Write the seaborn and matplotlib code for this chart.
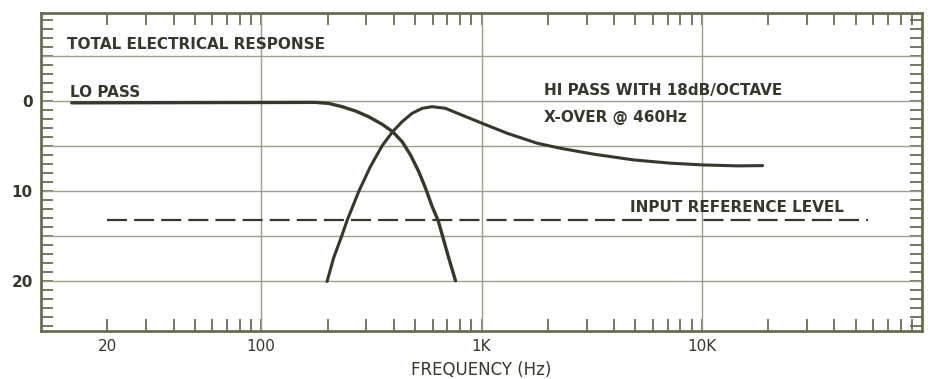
import numpy as np
import pandas as pd
import matplotlib
matplotlib.use("Agg")
import matplotlib.pyplot as plt
import seaborn as sns
from matplotlib.ticker import FixedLocator, NullFormatter

# ---- data ----
lo_freq = [13.8, 176, 202, 233, 268, 307, 354, 395, 436, 476, 519, 557, 597,
           636, 663, 710, 762]
lo_db = [0.2, 0.15, 0.26, 0.63, 1.11, 1.74, 2.59, 3.41, 4.52, 6.0, 7.86, 9.70,
         11.74, 13.33, 14.89, 17.48, 20.0]

hi_freq = [199, 213, 233, 245, 277, 313, 354, 395, 436, 484, 538, 597, 686, 748,
           1007, 1309, 1791, 2286, 3239, 4924, 7229, 10070, 14530, 18880]
hi_db = [20.08, 17.48, 14.89, 13.33, 10.08, 7.30, 4.97, 3.41, 2.30, 1.37, 0.81,
         0.63, 0.81, 1.19, 2.48, 3.59, 4.70, 5.26, 5.92, 6.56, 6.92, 7.11, 7.22, 7.19]

ref_freq = [20, 57000]
ref_db = [13.2, 13.2]

x_tick_vals = [20, 100, 1000, 10000]
x_tick_labels = ["20", "100", "1K", "10K"]
y_tick_vals = [0, 10, 20]
y_tick_labels = ["0", "10", "20"]

sns.set_theme(style="white")
plt.rcParams['font.family'] = ['DejaVu Sans']

ink = "#35382a"
gridc = "#9c9e88"
framec = "#6a6c50"

fig = plt.figure(figsize=(9.29, 3.79), dpi=100)
ax = fig.add_axes([41/929, 1 - 331/379, (922-41)/929, (331-13)/379])
ax.set_facecolor("white")

lo = pd.DataFrame({"f": lo_freq, "db": lo_db})
hi = pd.DataFrame({"f": hi_freq, "db": hi_db})
ref = pd.DataFrame({"f": ref_freq, "db": ref_db})

sns.lineplot(data=lo, x="f", y="db", ax=ax, color=ink, lw=2.4, sort=False, zorder=3)
sns.lineplot(data=hi, x="f", y="db", ax=ax, color=ink, lw=2.2, sort=False, zorder=3)
sns.lineplot(data=ref, x="f", y="db", ax=ax, color=ink, lw=1.6, sort=False, zorder=3,
             linestyle=(0, (9, 3.2)))

ax.set_xscale("log")
ax.set_xlim(10, 100000)
ax.set_ylim(25.6, -9.8)

# grid
for f in [100, 1000, 10000]:
    ax.axvline(f, color=gridc, lw=1.0, zorder=1)
for d in [-5, 0, 5, 10, 15, 20]:
    ax.axhline(d, color=gridc, lw=1.0, zorder=1)

# ticks
ax.xaxis.set_major_locator(FixedLocator(x_tick_vals))
ax.set_xticklabels(x_tick_labels)
minors = [m * 10**e for e in range(1, 5) for m in range(2, 10) if m * 10**e not in x_tick_vals]
ax.xaxis.set_minor_locator(FixedLocator(minors))
ax.xaxis.set_minor_formatter(NullFormatter())
ax.yaxis.set_major_locator(FixedLocator(y_tick_vals))
ax.set_yticklabels(y_tick_labels)
ax.yaxis.set_minor_locator(FixedLocator([v for v in range(-9, 26) if v not in y_tick_vals]))

ax.tick_params(axis="both", which="both", direction="in", top=True, right=True,
               bottom=True, left=True, color=framec, width=1.3, length=8.5,
               labelsize=11, labelcolor=ink, pad=6)
for lab in ax.get_yticklabels():
    lab.set_fontweight("bold")

for s in ax.spines.values():
    s.set_color(framec)
    s.set_linewidth(2.0)

ax.set_xlabel("FREQUENCY (Hz)", fontsize=12, color=ink, labelpad=5)
ax.set_ylabel("")

tkw = dict(fontsize=11, fontweight="bold", color=ink, va="center", ha="left",
           transform=ax.transData, zorder=4)
ax.text(13.1, -6.3, "TOTAL ELECTRICAL RESPONSE", **tkw)
ax.text(13.5, -1.0, "LO PASS", **tkw)
ax.text(1914, -1.2, "HI PASS WITH 18dB/OCTAVE", **tkw)
ax.text(1914, 1.8, "X-OVER @ 460Hz", **tkw)
ax.text(4710, 11.9, "INPUT REFERENCE LEVEL", **tkw)

fig.savefig("out.png", dpi=100, facecolor="white")
